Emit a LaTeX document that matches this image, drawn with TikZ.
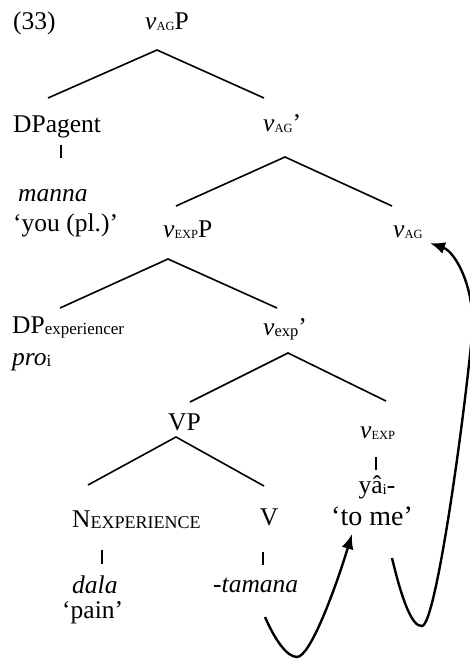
\documentclass[tikz,border=0pt]{standalone}
\usepackage{fontspec}
\setmainfont{Liberation Serif}
\usetikzlibrary{arrows.meta}
\newcommand\lsub[2][12.5]{\raisebox{-1.5pt}{\fontsize{#1}{#1}\selectfont #2}}
\begin{document}
\begin{tikzpicture}[x=1pt,y=-1pt,
  lbl/.style={anchor=base west, inner sep=0pt, font=\fontsize{25.5}{30}\selectfont},
  lblc/.style={lbl, anchor=base},
  branch/.style={line width=1.6pt},
  tickmark/.style={line width=1.9pt},
  mvarrow/.style={line width=2.4pt, -{Latex[length=15pt,width=12pt]}}]
\useasboundingbox (0,0) rectangle (469,659);
% labels
\node[lbl] (n33) at (13,29) {(33)};
\node[lbl] (vagp) at (145,29) {\textit{v}\lsub{AG}P};
\node[lbl] (dpagent) at (13,132) {DPagent};
\node[lbl] (manna) at (18,201) {\textit{manna}};
\node[lbl] (youpl) at (13,231) {`you (pl.)'};
\node[lbl] (vagbar) at (263,131) {\textit{v}\lsub{AG}'};
\node[lbl] (vexpp) at (163,237) {\textit{v}\lsub{EXP}P};
\node[lbl] (vag) at (393,237) {\textit{v}\lsub{AG}};
\node[lbl] (dpexp) at (12,333) {DP\lsub[17]{experiencer}};
\node[lbl] (pro) at (12,365) {\textit{pro}\lsub[17]{i}};
\node[lbl] (vexpbar) at (263,335) {\textit{v}\lsub[16.5]{exp}'};
\node[lbl] (vp) at (168,430) {VP};
\node[lbl] (vexp) at (360,438) {\textit{v}\lsub{EXP}};
\node[lblc] (ya) at (377,493) {yâ\lsub[15]{i}-};
\node[lblc] (tome) at (372,525) {\fontsize{28}{30}\selectfont`to me'};
\node[lbl] (nexp) at (72,527) {N\lsub[18]{EXPERIENCE}};
\node[lblc] (vv) at (269,525) {V};
\node[lbl] (dala) at (72,593) {\textit{dala}};
\node[lbl] (pain) at (62,618) {`pain'};
\node[lbl] (tamana) at (213,592) {\textit{-tamana}};
% tree coordinates
\coordinate (a1) at (157,50);
\coordinate (a1l) at (48,98);
\coordinate (a1r) at (264,98);
\coordinate (a2) at (285,157);
\coordinate (a2l) at (176,206);
\coordinate (a2r) at (392,206);
\coordinate (a3) at (168,259);
\coordinate (a3l) at (60,308);
\coordinate (a3r) at (277,308);
\coordinate (a4) at (288,353);
\coordinate (a4l) at (190,402);
\coordinate (a4r) at (386,401);
\coordinate (a5) at (176,437);
\coordinate (a5l) at (88,485);
\coordinate (a5r) at (264,486);
\draw[branch] (a1l) -- (a1) -- (a1r);
\draw[branch] (a2l) -- (a2) -- (a2r);
\draw[branch] (a3l) -- (a3) -- (a3r);
\draw[branch] (a4l) -- (a4) -- (a4r);
\draw[branch] (a5l) -- (a5) -- (a5r);
% ticks
\coordinate (t1a) at (61,145); \coordinate (t1b) at (61,158);
\coordinate (t2a) at (102,550); \coordinate (t2b) at (102,564);
\coordinate (t3a) at (263,552); \coordinate (t3b) at (263,565);
\coordinate (t4a) at (376,457); \coordinate (t4b) at (376,470);
\draw[tickmark] (t1a) -- (t1b);
\draw[tickmark] (t2a) -- (t2b);
\draw[tickmark] (t3a) -- (t3b);
\draw[tickmark] (t4a) -- (t4b);
% movement arrows
\coordinate (m1s) at (265,617);
\coordinate (m1b) at (297,657);
\coordinate (m1e) at (352,534);
\draw[mvarrow] (m1s) .. controls (275,640) and (287,657) .. (m1b)
  .. controls (310,657) and (335,590) .. (m1e);
\coordinate (m2s) at (392,558);
\coordinate (m2b) at (422,626);
\coordinate (m2m) at (472,335);
\coordinate (m2e) at (430,243);
\draw[mvarrow] (m2s) .. controls (402,600) and (412,627) .. (m2b)
  .. controls (436,625) and (464,420) .. (m2m)
  .. controls (476,290) and (456,252) .. (m2e);
\end{tikzpicture}
\end{document}
